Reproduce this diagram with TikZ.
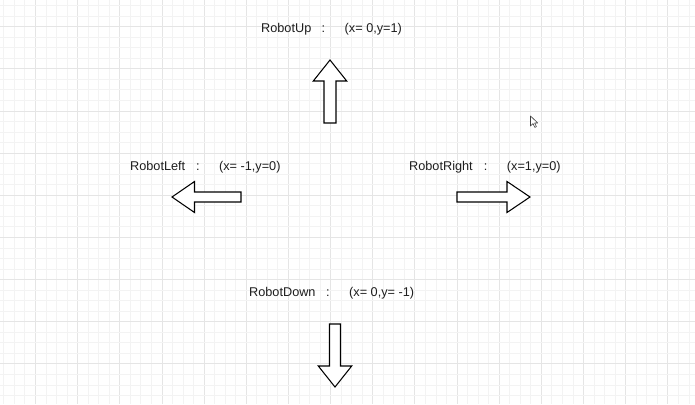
\documentclass[tikz,border=0pt]{standalone}
\usepackage{fontspec}
\setmainfont{Liberation Sans}
\definecolor{gridminor}{HTML}{F3F3F3}
\definecolor{gridmajor}{HTML}{E5E5E5}
\definecolor{inktext}{HTML}{1E1E1E}
\tikzset{
  blockarrow/.style={draw=black, fill=white, line width=1.05pt, line join=miter},
  lbl/.style={anchor=base west, inner sep=0pt, text=inktext, font=\fontsize{12.7pt}{15pt}\selectfont},
  cursorshape/.style={draw=black!75, fill=white, line width=0.6pt, line join=round}
}
\newcommand{\dirlabel}[3]{#1\hspace{#3}:\hspace{19.5pt}#2}
\begin{document}
\begin{tikzpicture}[x=1pt,y=-1pt]
\useasboundingbox (0,0) rectangle (695,404);
\fill[white] (0,0) rectangle (695,404);
% grid
\foreach \k in {0,...,65}{
  \pgfmathsetmacro{\xx}{3.9+10.54*\k}
  \pgfmathtruncatemacro{\mm}{mod(\k+1,4)}
  \ifnum\mm=0
    \draw[gridmajor, line width=1pt] (\xx,0) -- (\xx,404);
  \else
    \draw[gridminor, line width=1pt] (\xx,0) -- (\xx,404);
  \fi
}
\foreach \k in {0,...,38}{
  \pgfmathsetmacro{\yy}{5.6+10.54*\k}
  \pgfmathtruncatemacro{\mm}{mod(\k+2,4)}
  \ifnum\mm=0
    \draw[gridmajor, line width=1pt] (0,\yy) -- (695,\yy);
  \else
    \draw[gridminor, line width=1pt] (0,\yy) -- (695,\yy);
  \fi
}
% labels
\node[lbl] (up)    at (261,32.7)  {\dirlabel{RobotUp}{(x= 0,y=1)}{10.4pt}};
\node[lbl] (left)  at (130,170)   {\dirlabel{RobotLeft}{(x= -1,y=0)}{10.8pt}};
\node[lbl] (right) at (409,170)   {\dirlabel{RobotRight}{(x=1,y=0)}{11.2pt}};
\node[lbl] (down)  at (249,296.7) {\dirlabel{RobotDown}{(x= 0,y= -1)}{10.6pt}};
% block arrows
\draw[blockarrow] (324,123) -- (324,81) -- (313.3,81) -- (330,60) -- (346.7,81) -- (336,81) -- (336,123) -- cycle;
\draw[blockarrow] (457,192) -- (507,192) -- (507,181.5) -- (530,197) -- (507,212.5) -- (507,202) -- (457,202) -- cycle;
\draw[blockarrow] (241,192) -- (194.5,192) -- (194.5,181.5) -- (172,197) -- (194.5,212.5) -- (194.5,202) -- (241,202) -- cycle;
\draw[blockarrow] (329.5,324) -- (329.5,366) -- (318.3,366) -- (335,387) -- (351.7,366) -- (340.5,366) -- (340.5,324) -- cycle;
% mouse pointer
\draw[cursorshape] (530.5,116) -- (530.5,126) -- (533,123.6) -- (534.8,127.4) -- (536.4,126.7) -- (534.7,123) -- (537.8,123) -- cycle;
\end{tikzpicture}
\end{document}
